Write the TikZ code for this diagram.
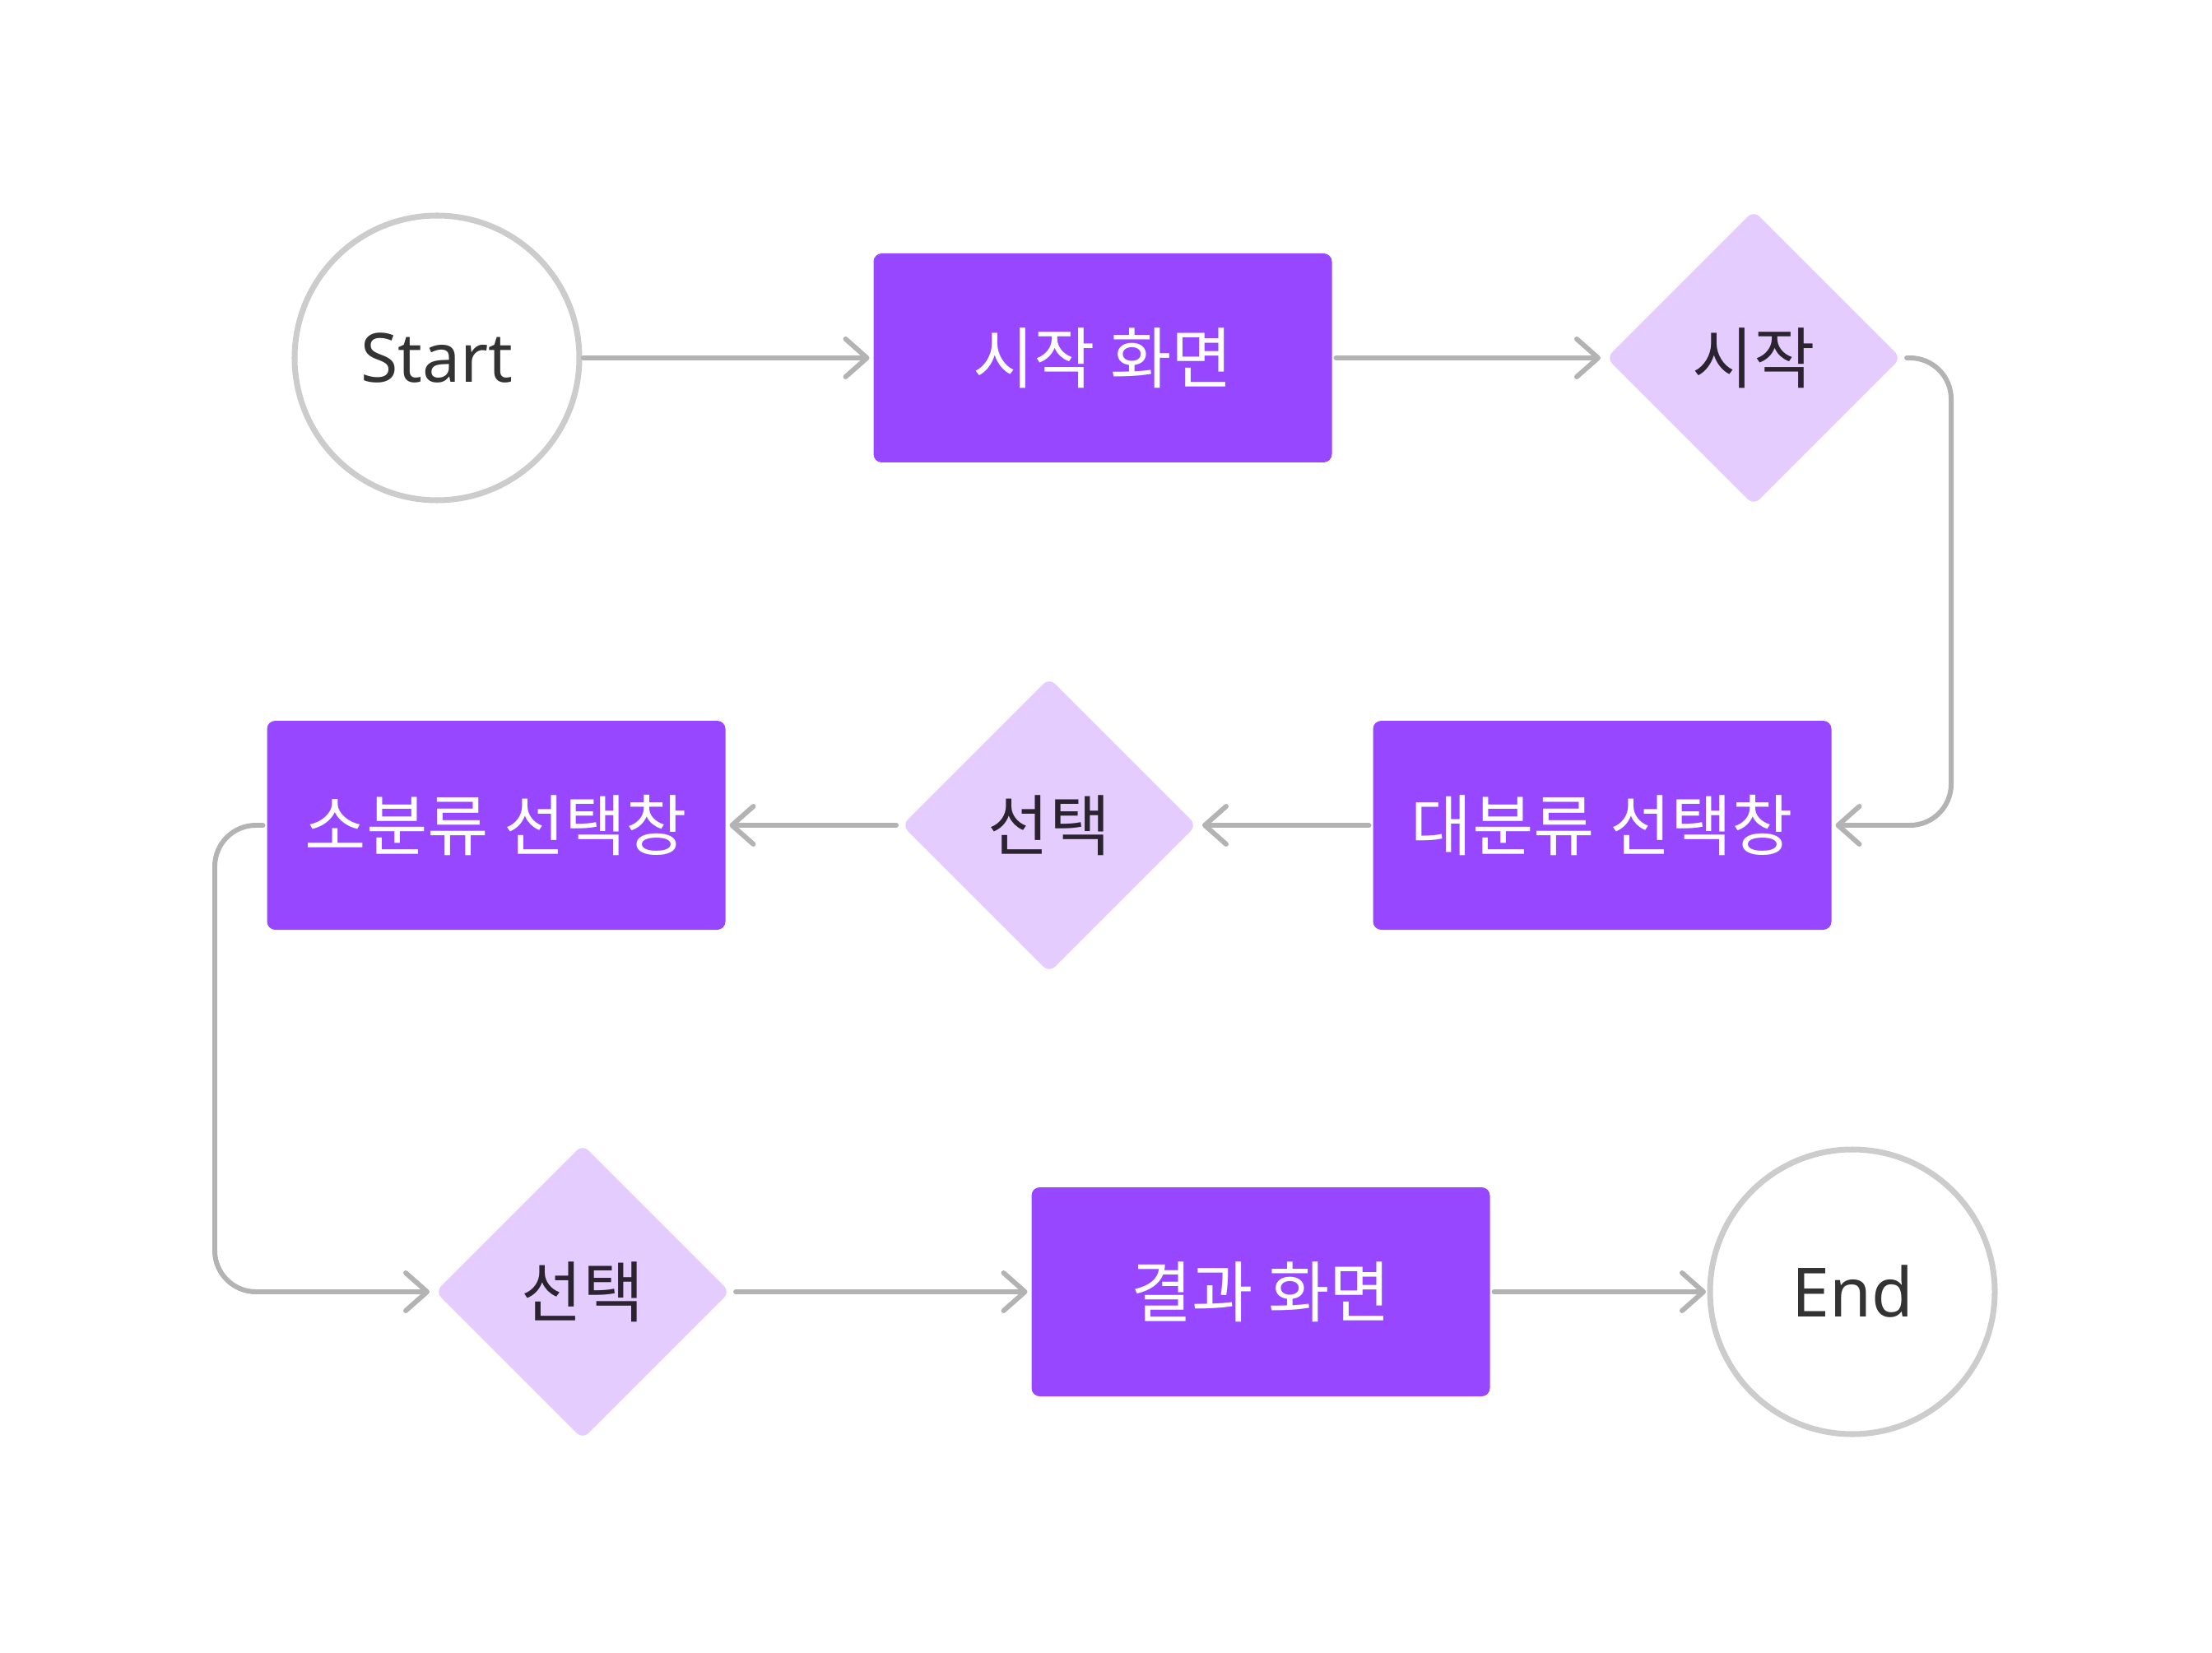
\documentclass[tikz,border=0pt]{standalone}
\usepackage{fontspec}
\setmainfont{Noto Sans}
\newfontfamily\kor{Noto Sans CJK KR}
\usetikzlibrary{shapes.geometric,arrows.meta}
\definecolor{flowpurple}{HTML}{9747FF}
\definecolor{flowlilac}{HTML}{E4CCFF}
\definecolor{flowline}{HTML}{B3B3B3}
\definecolor{flowring}{HTML}{CCCCCC}
\definecolor{flowtext}{HTML}{333333}
\definecolor{flowdark}{HTML}{2B2330}
\tikzset{
  terminal/.style={circle,draw=flowring,line width=2pt,fill=white,
    minimum size=3.46cm,inner sep=0pt,outer sep=0.05cm,text=flowtext,
    font=\fontsize{23.5pt}{28pt}\selectfont},
  screen/.style={rectangle,rounded corners=0.1cm,fill=flowpurple,
    minimum width=5.57cm,minimum height=2.54cm,inner sep=0pt,
    outer sep=0.05cm,text=white,font=\kor\fontsize{23pt}{28pt}\selectfont},
  choice/.style={diamond,aspect=1,rounded corners=0.1cm,fill=flowlilac,
    minimum size=3.62cm,inner sep=0pt,outer sep=0.05cm,text=flowdark,
    font=\kor\fontsize{23pt}{28pt}\selectfont},
  flow/.style={draw=flowline,line width=1.7pt,line cap=round,
    line join=round,-{Straight Barb[length=2.6mm,width=4.6mm,round]}},
}
\begin{document}
\begin{tikzpicture}
  \useasboundingbox (0,0) rectangle (26.88,20.08);
  % first row
  \node[terminal] (start) at (5.31,15.73) {Start};
  \node[screen] (home) at (13.40,15.73) {시작 화면};
  \node[choice] (begin) at (21.31,15.73) {시작};
  % second row
  \node[screen] (major) at (19.47,10.05) {대분류 선택창};
  \node[choice] (pickA) at (12.75,10.05) {선택};
  \node[screen] (minor) at (6.03,10.05) {소분류 선택창};
  % third row
  \node[choice] (pickB) at (7.08,4.38) {선택};
  \node[screen] (result) at (15.32,4.38) {결과 화면};
  \node[terminal] (end) at (22.51,4.38) {End};
  % turning points of the loops
  \coordinate (loopR) at (23.71,12.90);
  \coordinate (loopL) at (2.61,7.20);
  \draw[flow] (start.east) -- (home.west);
  \draw[flow] (home.east) -- (begin.west);
  \draw[flow,rounded corners=0.5cm]
    (begin.east) -| (loopR) |- (major.east);
  \draw[flow] (major.west) -- (pickA.east);
  \draw[flow] (pickA.west) -- (minor.east);
  \draw[flow,rounded corners=0.5cm]
    (minor.west) -| (loopL) |- (pickB.west);
  \draw[flow] (pickB.east) -- (result.west);
  \draw[flow] (result.east) -- (end.west);
\end{tikzpicture}
\end{document}
